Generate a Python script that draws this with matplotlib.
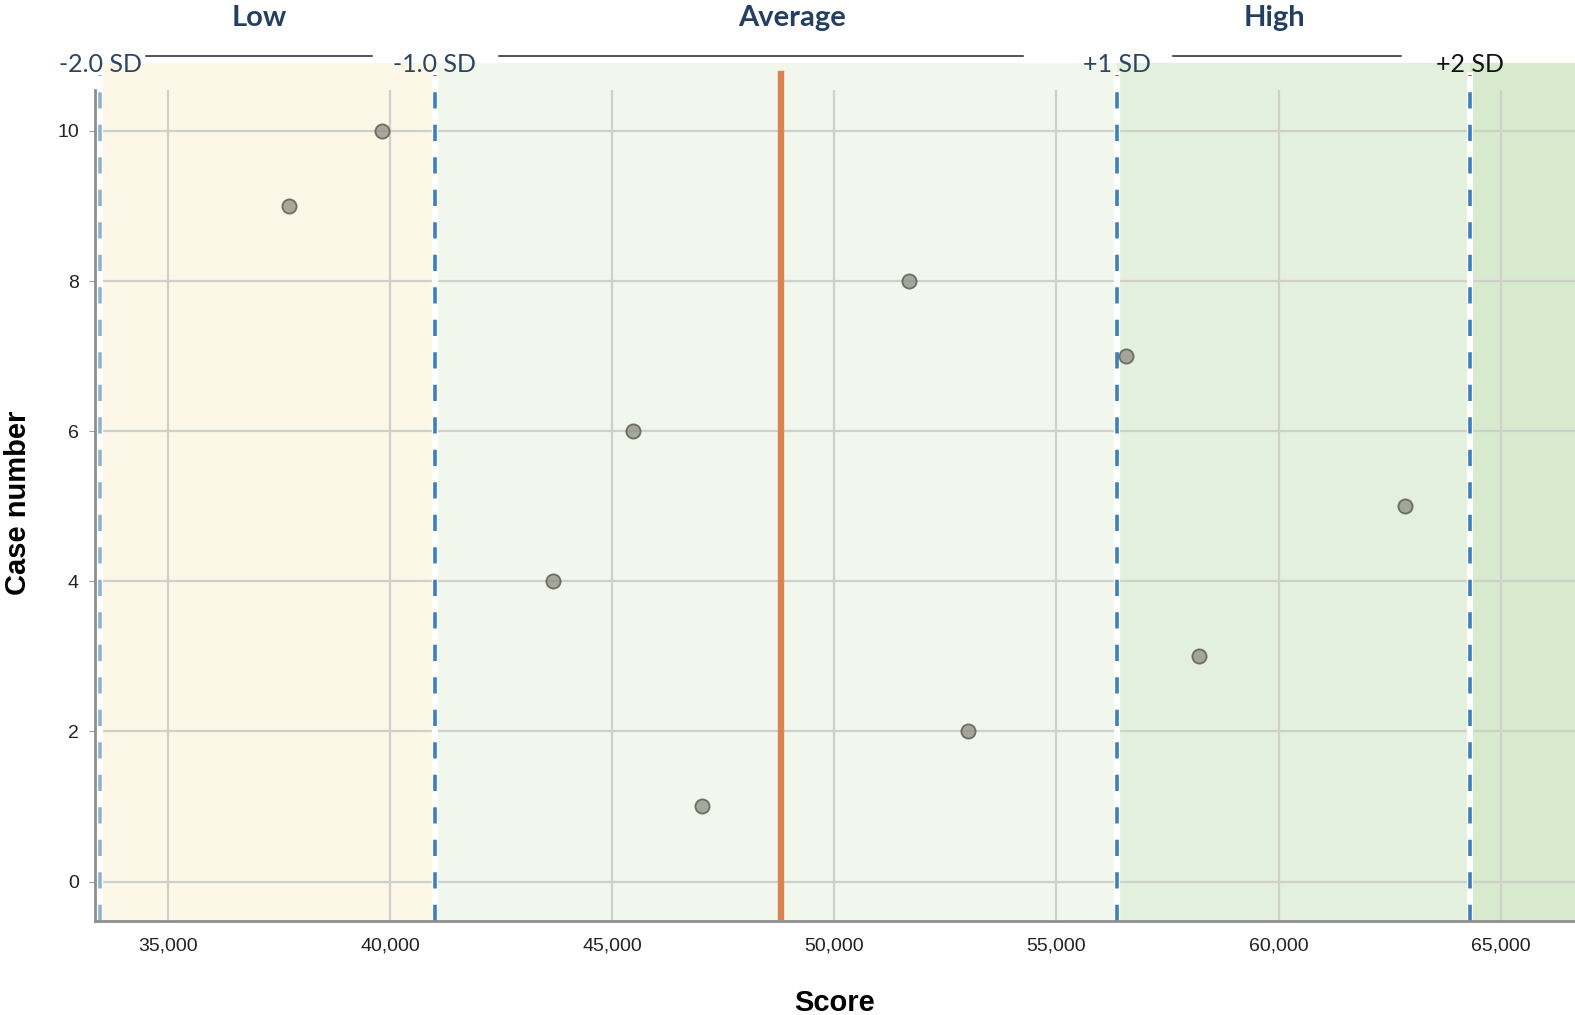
import matplotlib
matplotlib.use("Agg")
import matplotlib.pyplot as plt

# ---- data ----
cases = [1, 2, 3, 4, 5, 6, 7, 8, 9, 10]
scores = [47025, 53016, 58216, 43668, 62853, 45475, 56564, 51682, 37735, 39815]
mean_score = 48811
sd_marks = [33486, 41013, 56361, 64317]
sd_labels = ["-2.0 SD", "-1.0 SD", "+1 SD", "+2 SD"]
band_labels = ["Low", "Average", "High"]
x_ticks = [35000, 40000, 45000, 50000, 55000, 60000, 65000]
y_ticks = [0, 2, 4, 6, 8, 10]

fig = plt.figure(figsize=(15.75, 10.15), dpi=100)
ax = fig.add_axes([0.0606, 0.093, 0.9394, 0.818])
xmin, xmax = 33373, 66673
ax.set_xlim(xmin, xmax)
ax.set_ylim(-0.52, 10.54)

top = 1.033
band_colors = ["#FDF7E8", "#F1F7EC", "#E4F0DE", "#D8EACE"]
edges = sd_marks + [xmax]
for i in range(4):
    ax.axvspan(edges[i], edges[i + 1], ymin=0, ymax=top, color=band_colors[i],
               zorder=0.5, clip_on=False, lw=0)

ax.grid(True, color="#D0D0CA", lw=1.6)
ax.set_axisbelow("line")

# SD dashed lines
for i, x in enumerate(sd_marks):
    ax.axvline(x, ymin=0, ymax=1.018, color="white", lw=4.5, zorder=2, clip_on=False)
    col = "#8CB4CF" if i == 0 else "#3D7EBE"
    ax.axvline(x, ymin=0, ymax=1.018, color=col, lw=2.6, ls=(0, (4.5, 4.5)),
               zorder=2.1, clip_on=False)

ax.axvline(mean_score, ymin=0.004, ymax=1.02, color="#D9844F", lw=4.6, zorder=2.5,
           clip_on=False)

ax.scatter(scores, cases, s=105, facecolor="#8C8C80", alpha=0.75,
           edgecolor="#4f4f48", linewidth=1.3, zorder=3)

ax.set_xticks(x_ticks)
ax.set_xticklabels([f"{v:,}" for v in x_ticks])
ax.set_yticks(y_ticks)
ax.tick_params(axis="x", length=0, pad=12, labelsize=14, labelcolor="#222222")
ax.tick_params(axis="y", length=4, color="#999999", pad=8, labelsize=14,
               labelcolor="#222222")
for lab in ax.get_xticklabels() + ax.get_yticklabels():
    lab.set_family("Liberation Sans")

for s in ["top", "right"]:
    ax.spines[s].set_visible(False)
for s in ["left", "bottom"]:
    ax.spines[s].set_color("#8E8E8E")
    ax.spines[s].set_linewidth(2)

fig.text(0.530, 0.012, "Score", fontsize=21, fontweight="bold",
         family="Liberation Sans", ha="center", va="center")
fig.text(0.0115, 0.505, "Case number", fontsize=21, fontweight="bold",
         family="Liberation Sans", ha="center", va="center", rotation=90)

trans = ax.get_xaxis_transform()
# SD labels
sd_colors = ["#2B4461", "#2B4461", "#2B4461", "#111111"]
for x, lab, c in zip(sd_marks, sd_labels, sd_colors):
    ax.text(x, 1.031, lab, transform=trans, ha="center", va="center", fontsize=18,
            color=c, family="Lato", clip_on=False)
# connector lines between labels
for x0, x1 in [(34503, 39589), (42459, 54258), (57626, 62758)]:
    ax.plot([x0, x1], [1.041, 1.041], transform=trans, color="#222222", lw=1.1,
            clip_on=False)
# band headers
for x, lab in zip([37050, 49050, 59900], band_labels):
    ax.text(x, 1.087, lab, transform=trans, ha="center", va="center", fontsize=21,
            fontweight="bold", color="#243F60", family="Lato", clip_on=False)

fig.savefig("out.png", dpi=100)
